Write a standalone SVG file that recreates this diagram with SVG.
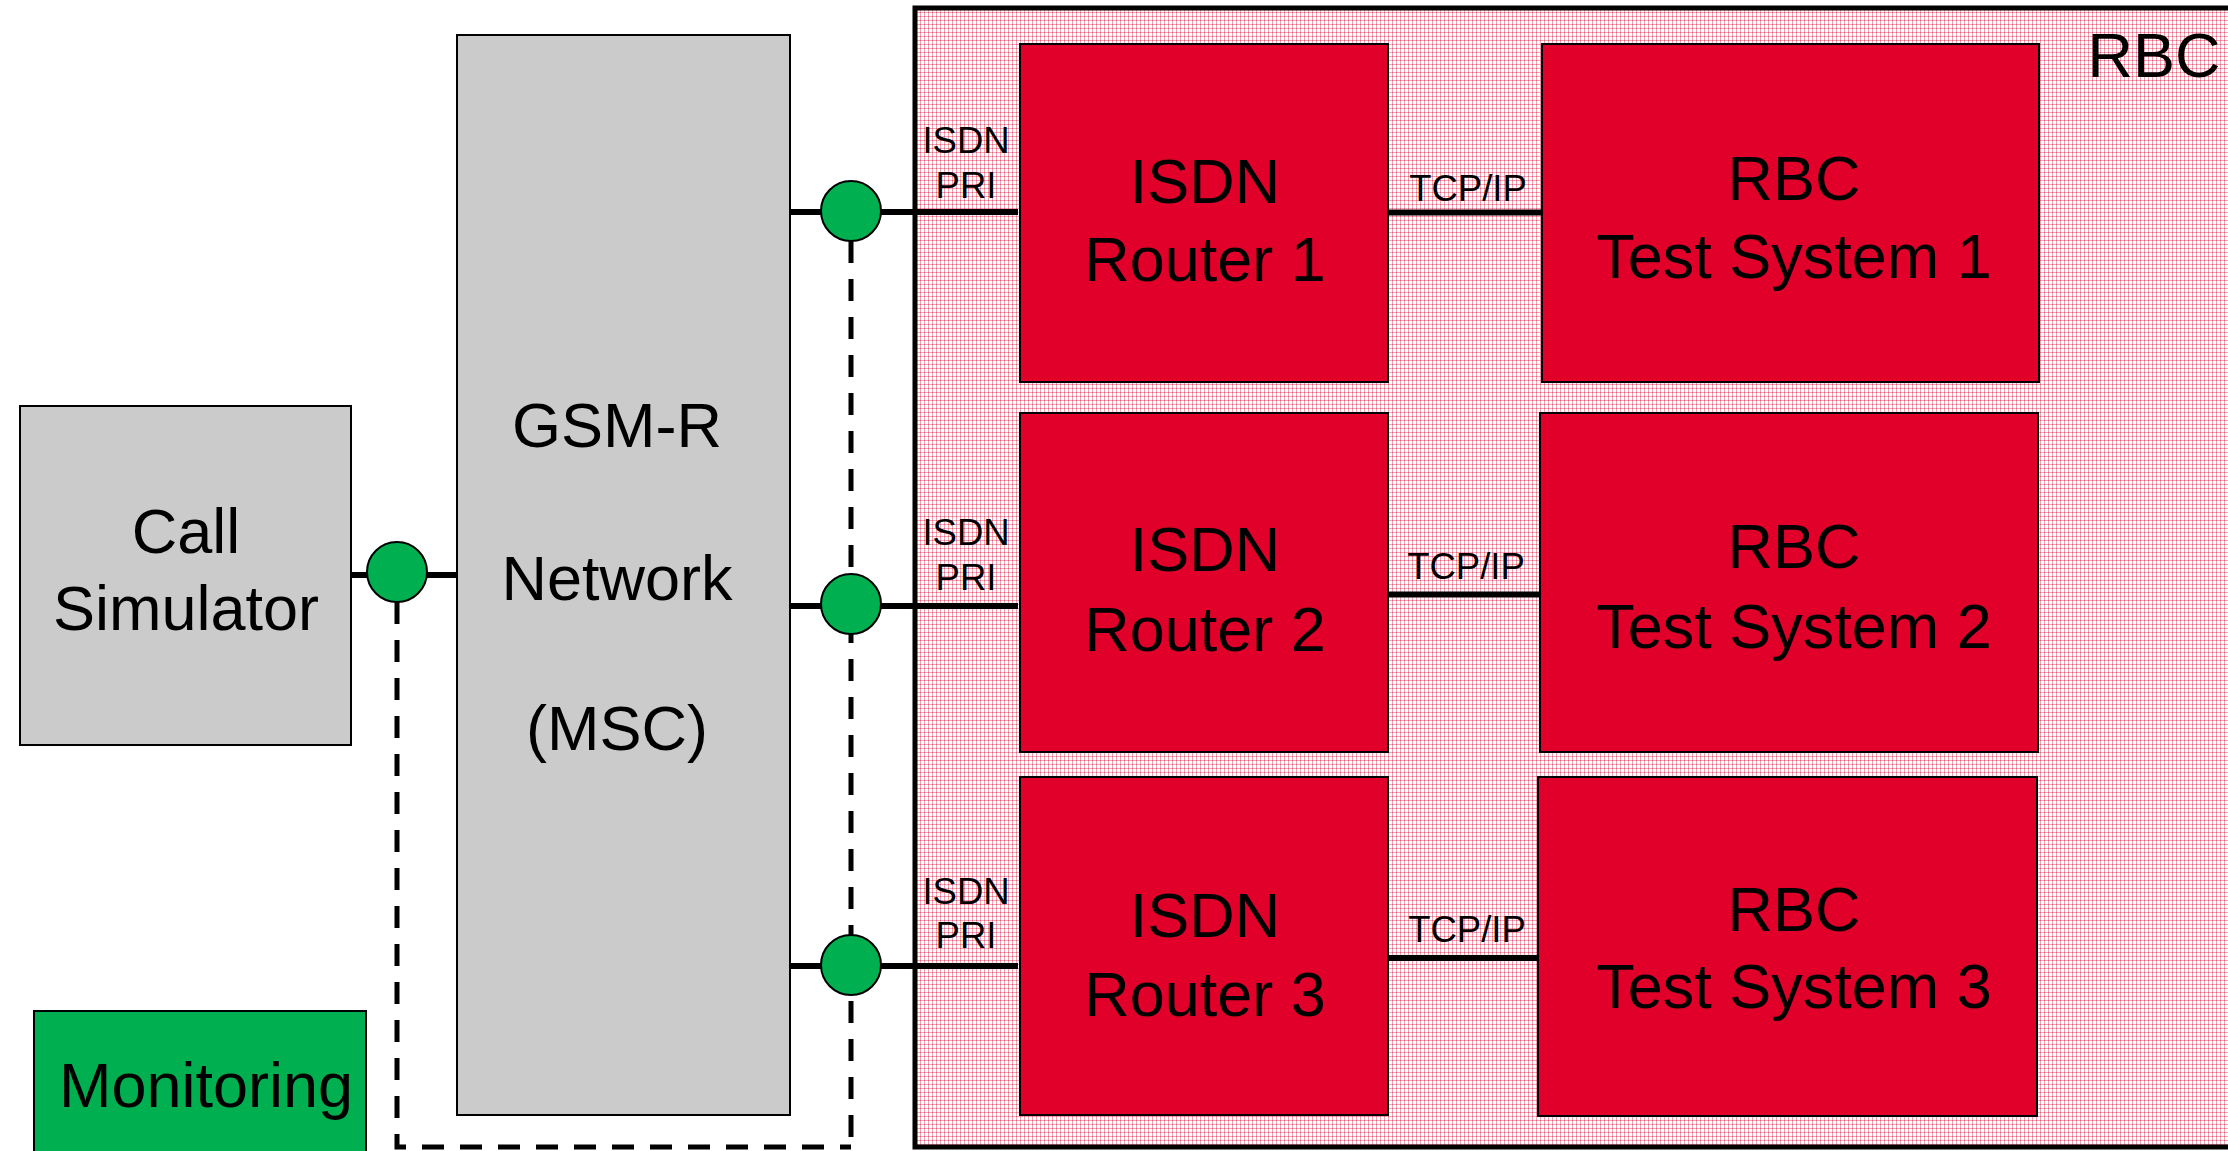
<svg xmlns="http://www.w3.org/2000/svg" width="2228" height="1151" viewBox="0 0 2228 1151">
  <defs>
    <!-- fine dotted pink hatch used for the RBC enclosure -->
    <pattern id="rbcHatch" patternUnits="userSpaceOnUse" width="4" height="4">
      <rect width="4" height="4" fill="#ffffff"/>
      <rect x="0" y="0" width="4" height="1" fill="#f2a3b3"/>
      <rect x="0" y="0" width="1" height="4" fill="#f2a3b3"/>
      <rect x="0" y="0" width="1" height="1" fill="#e6607c"/>
    </pattern>
  </defs>
  <style>
    .grey { fill: #cbcbcb; stroke: #000; stroke-width: 2; }
    .red { fill: #e0002a; stroke: #000; stroke-width: 2; }
    .green { fill: #00b050; stroke: #000; stroke-width: 2; }
    .tap { fill: #00b050; stroke: #000; stroke-width: 2; }
    .link { stroke: #000; stroke-width: 6; fill: none; }
    .mon { stroke: #000; stroke-width: 5; fill: none; stroke-dasharray: 22 16; }
    .big { font-family: "Liberation Sans", Arial, sans-serif; font-size: 63px; fill: #000; text-anchor: middle; }
    .small { font-family: "Liberation Sans", Arial, sans-serif; font-size: 36.5px; fill: #000; text-anchor: middle; }
  </style>

  <rect width="2228" height="1151" fill="#ffffff"/>

  <!-- RBC enclosure -->
  <g id="rbc">
    <rect x="915" y="8" width="1400" height="1139" fill="url(#rbcHatch)" stroke="#000" stroke-width="5"/>
    <text class="big" x="2154" y="77">RBC</text>
  </g>

  <!-- monitoring taps (dashed) -->
  <g id="monitoring-links">
    <path class="mon" d="M397 602 V1147 H851"/>
    <path class="mon" d="M851 241 V1147"/>
  </g>

  <!-- connectors -->
  <g id="connectors">
    <line class="link" x1="351" y1="575" x2="457" y2="575"/>
    <line class="link" x1="790" y1="212" x2="1018" y2="212"/>
    <line class="link" x1="790" y1="606" x2="1018" y2="606"/>
    <line class="link" x1="790" y1="966" x2="1018" y2="966"/>
    <line class="link" x1="1389" y1="212.5" x2="1541" y2="212.5"/>
    <line class="link" x1="1389" y1="594.5" x2="1540" y2="594.5"/>
    <line class="link" x1="1389" y1="958" x2="1537" y2="958"/>
    <text class="small" x="966" y="153">ISDN</text>
    <text class="small" x="966" y="198">PRI</text>
    <text class="small" x="966" y="545">ISDN</text>
    <text class="small" x="966" y="590">PRI</text>
    <text class="small" x="966" y="904">ISDN</text>
    <text class="small" x="966" y="948">PRI</text>
    <text class="small" x="1468" y="201">TCP/IP</text>
    <text class="small" x="1466" y="579">TCP/IP</text>
    <text class="small" x="1467" y="942">TCP/IP</text>
  </g>

  <!-- tap points -->
  <g id="taps">
    <circle class="tap" cx="397" cy="572" r="30"/>
    <circle class="tap" cx="851" cy="211" r="30"/>
    <circle class="tap" cx="851" cy="604" r="30"/>
    <circle class="tap" cx="851" cy="965" r="30"/>
  </g>

  <g id="call-simulator">
    <rect class="grey" x="20" y="406" width="331" height="339"/>
    <text class="big" x="186" y="553">Call</text>
    <text class="big" x="186" y="630">Simulator</text>
  </g>

  <g id="gsm-r-network">
    <rect class="grey" x="457" y="35" width="333" height="1080"/>
    <text class="big" x="617" y="447">GSM-R</text>
    <text class="big" x="617" y="600">Network</text>
    <text class="big" x="617" y="750">(MSC)</text>
  </g>

  <g id="monitoring">
    <rect class="green" x="34" y="1011" width="332" height="160"/>
    <text class="big" x="206" y="1107">Monitoring</text>
  </g>

  <g id="isdn-router-1">
    <rect class="red" x="1020" y="44" width="368" height="338"/>
    <text class="big" x="1205" y="203">ISDN</text>
    <text class="big" x="1205" y="281">Router 1</text>
  </g>
  <g id="isdn-router-2">
    <rect class="red" x="1020" y="413" width="368" height="339"/>
    <text class="big" x="1205" y="571">ISDN</text>
    <text class="big" x="1205" y="651">Router 2</text>
  </g>
  <g id="isdn-router-3">
    <rect class="red" x="1020" y="777" width="368" height="338"/>
    <text class="big" x="1205" y="937">ISDN</text>
    <text class="big" x="1205" y="1016">Router 3</text>
  </g>

  <g id="rbc-test-system-1">
    <rect class="red" x="1542" y="44" width="497" height="338"/>
    <text class="big" x="1794" y="200">RBC</text>
    <text class="big" x="1794" y="278">Test System 1</text>
  </g>
  <g id="rbc-test-system-2">
    <rect class="red" x="1540" y="413" width="498" height="339"/>
    <text class="big" x="1794" y="568">RBC</text>
    <text class="big" x="1794" y="648">Test System 2</text>
  </g>
  <g id="rbc-test-system-3">
    <rect class="red" x="1538" y="777" width="499" height="339"/>
    <text class="big" x="1794" y="931">RBC</text>
    <text class="big" x="1794" y="1008">Test System 3</text>
  </g>
</svg>
